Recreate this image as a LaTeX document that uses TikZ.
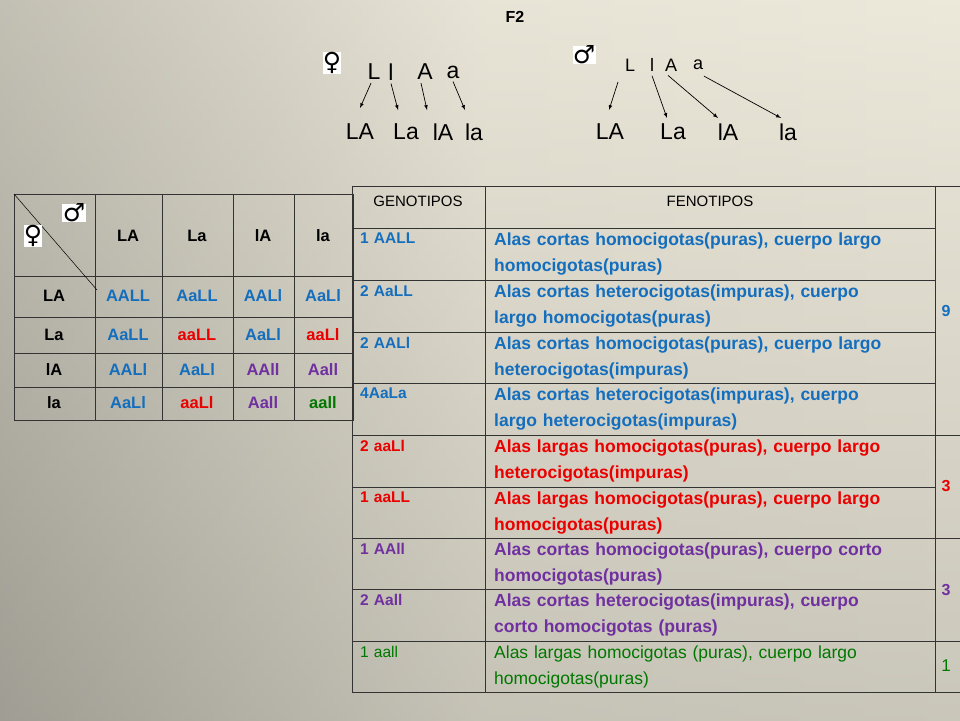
\documentclass[tikz,border=0pt]{standalone}
\usepackage{fontspec}
\setmainfont{Liberation Sans}
\newfontfamily\symf{DejaVu Sans}
\definecolor{cblue}{RGB}{20,110,190}
\definecolor{cred}{RGB}{235,0,0}
\definecolor{cpurp}{RGB}{112,48,160}
\definecolor{cgreen}{RGB}{0,120,0}
\definecolor{bgl}{RGB}{236,232,218}
\definecolor{bgd}{RGB}{160,158,148}
\begin{document}
\begin{tikzpicture}[x=1pt,y=-1pt,
  grid/.style={line width=0.8pt,black!80},
  arr/.style={-latex,line width=0.7pt},
  sym/.style={fill=white,inner sep=0.3pt,font=\symf\fontsize{25}{25}\selectfont},
  big/.style={inner sep=1pt,font=\fontsize{23}{23}\selectfont},
  mid/.style={inner sep=1pt,font=\fontsize{18}{18}\selectfont},
  cellc/.style={font=\bfseries\fontsize{16.5}{16.5}\selectfont},
  txt/.style={anchor=north west,align=left,inner sep=0pt,text width=440pt}]
\shade[left color=bgd,right color=bgl,middle color=bgl!90!bgd] (0,0) rectangle (960,720);
\shade[top color=bgl,bottom color=bgd,opacity=0.45] (0,0) rectangle (960,720);
\useasboundingbox (0,0) rectangle (960,720);
% title
\node[font=\bfseries\fontsize{16}{16}\selectfont] (f2) at (515,17) {F2};
% female
\node[sym] (fs) at (332,63) {♀};
\node[big] (fL) at (374,72) {L};
\node[big] (fl) at (391,72) {l};
\node[big] (fA) at (425,72) {A};
\node[big] (fa) at (453,72) {a};
\node[big] (g1) at (360,132) {LA};
\node[big] (g2) at (406,132) {La};
\node[big] (g3) at (443,132) {lA};
\node[big] (g4) at (474,132) {la};
\coordinate (e1) at (360,108); \coordinate (e2) at (398,110);
\coordinate (e3) at (427,110); \coordinate (e4) at (465,110);
\draw[arr] ([xshift=-3,yshift=-2]fL.south) -- (e1);
\draw[arr] ([yshift=-2]fl.south) -- (e2);
\draw[arr] ([xshift=-4,yshift=-2]fA.south) -- (e3);
\draw[arr] ([yshift=-2]fa.south) -- (e4);
% male
\node[sym] (ms) at (584,55) {♂};
\node[mid] (mL) at (630,65) {L};
\node[mid] (ml) at (652,65) {l};
\node[mid] (mA) at (671,65) {A};
\node[mid] (ma) at (698,65) {a};
\node[big] (h1) at (610,132) {LA};
\node[big] (h2) at (673,132) {La};
\node[big] (h3) at (728,132) {lA};
\node[big] (h4) at (788,132) {la};
\coordinate (k1) at (609,110); \coordinate (k2) at (667,118);
\coordinate (k3) at (718,118); \coordinate (k4) at (781,118);
\draw[arr] (618,82) -- (k1);
\draw[arr] ([yshift=-3]ml.south) -- (k2);
\draw[arr] ([xshift=-3,yshift=-3]mA.south) -- (k3);
\draw[arr] ([xshift=6,yshift=-5]ma.south) -- (k4);
% left table
\draw[grid] (14,194) rectangle (353,420);
\foreach \x in {95,162,233,294} \draw[grid] (\x,194) -- (\x,420);
\foreach \y in {276,317,353,387} \draw[grid] (14,\y) -- (353,\y);
\draw[line width=0.5pt] (14,194) -- (97,290);
\node[sym] (lm) at (74,213) {♂};
\node[sym] (lf) at (33,236) {♀};
\node[cellc] (c01) at (128,236) {LA};
\node[cellc] (c02) at (197,236) {La};
\node[cellc] (c03) at (263,236) {lA};
\node[cellc] (c04) at (323,236) {la};
\node[cellc] (r1) at (54,296) {LA};
\node[cellc] (r2) at (54,335) {La};
\node[cellc] (r3) at (54,370) {lA};
\node[cellc] (r4) at (54,403) {la};
\node[cellc,cblue] (a11) at (128,296) {AALL};
\node[cellc,cblue] (a12) at (197,296) {AaLL};
\node[cellc,cblue] (a13) at (263,296) {AALl};
\node[cellc,cblue] (a14) at (323,296) {AaLl};
\node[cellc,cblue] (a21) at (128,335) {AaLL};
\node[cellc,cred] (a22) at (197,335) {aaLL};
\node[cellc,cblue] (a23) at (263,335) {AaLl};
\node[cellc,cred] (a24) at (323,335) {aaLl};
\node[cellc,cblue] (a31) at (128,370) {AALl};
\node[cellc,cblue] (a32) at (197,370) {AaLl};
\node[cellc,cpurp] (a33) at (263,370) {AAll};
\node[cellc,cpurp] (a34) at (323,370) {Aall};
\node[cellc,cblue] (a41) at (128,403) {AaLl};
\node[cellc,cred] (a42) at (197,403) {aaLl};
\node[cellc,cpurp] (a43) at (263,403) {Aall};
\node[cellc,cgreen] (a44) at (323,403) {aall};
% right table
\draw[grid] (352,186) rectangle (960,692);
\draw[grid] (485,186) -- (485,692);
\draw[grid] (935,186) -- (935,692);
\foreach \y in {228,280,332,383,487,589} \draw[grid] (352,\y) -- (935,\y);
\foreach \y in {435,538,641} \draw[grid] (352,\y) -- (960,\y);
\node[font=\fontsize{15}{15}\selectfont] (hg) at (418,201) {GENOTIPOS};
\node[font=\fontsize{15}{15}\selectfont] (hf) at (710,201) {FENOTIPOS};
\foreach \n/\y/\c/\b/\g/\f in {
 1/233/cblue/\bfseries/1 AALL/{Alas cortas homocigotas(puras), cuerpo largo\\homocigotas(puras)},
 2/285/cblue/\bfseries/2 AaLL/{Alas cortas heterocigotas(impuras), cuerpo\\largo homocigotas(puras)},
 3/337/cblue/\bfseries/2 AALl/{Alas cortas homocigotas(puras), cuerpo largo\\heterocigotas(impuras)},
 4/388/cblue/\bfseries/4AaLa/{Alas cortas heterocigotas(impuras), cuerpo\\largo heterocigotas(impuras)},
 5/440/cred/\bfseries/2 aaLl/{Alas largas homocigotas(puras), cuerpo largo\\heterocigotas(impuras)},
 6/492/cred/\bfseries/1 aaLL/{Alas largas homocigotas(puras), cuerpo largo\\homocigotas(puras)},
 7/543/cpurp/\bfseries/1 AAll/{Alas cortas homocigotas(puras), cuerpo corto\\homocigotas(puras)},
 8/594/cpurp/\bfseries/2 Aall/{Alas cortas heterocigotas(impuras), cuerpo\\corto homocigotas (puras)},
 9/646/cgreen//1 aall/{Alas largas homocigotas (puras), cuerpo largo\\homocigotas(puras)}}{
 \node[txt,text=\c,font=\b\fontsize{15.5}{15.5}\selectfont,text width=120pt] (g\n) at (360,\y) {\g};
 \node[txt,text=\c,font=\b\fontsize{17.5}{25.5}\selectfont] (p\n) at (494,\y) {\f};
}
\node[cblue,font=\bfseries\fontsize{16}{16}\selectfont] (n9) at (946,311) {9};
\node[cred,font=\bfseries\fontsize{16}{16}\selectfont] (n3a) at (946,486) {3};
\node[cpurp,font=\bfseries\fontsize{16}{16}\selectfont] (n3b) at (946,590) {3};
\node[cgreen,font=\fontsize{17}{17}\selectfont] (n1) at (946,666) {1};
\end{tikzpicture}
\end{document}
